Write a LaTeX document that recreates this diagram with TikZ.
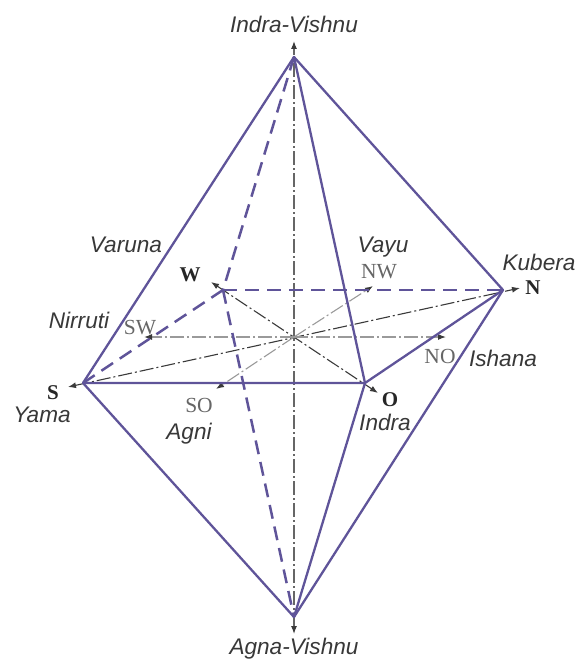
\documentclass[tikz,border=0pt]{standalone}
\usepackage{fontspec}
\setmainfont{Liberation Serif}
\newfontfamily\lblfont{Liberation Sans}
\usetikzlibrary{arrows.meta}
\definecolor{edgeblue}{HTML}{5F5499}
\definecolor{axisdark}{HTML}{3A3A3A}
\definecolor{axismid}{HTML}{666666}
\definecolor{axisgrey}{HTML}{9A9A9A}
\tikzset{
  x=1pt,y=-1pt,
  solidedge/.style={draw=edgeblue,line width=2.3pt,line join=round},
  hiddenedge/.style={draw=edgeblue,line width=2.5pt,dash pattern=on 14pt off 8pt},
  axisbase/.style={line width=1.1pt,dash pattern=on 14pt off 3pt on 2pt off 3pt},
  axisline/.style={axisbase,draw=axisdark,{Latex[length=8pt,width=6pt]}-{Latex[length=8pt,width=6pt]}},
  axisvert/.style={axisbase,draw=axismid,{Latex[length=8pt,width=6pt,color=axisdark]}-{Latex[length=8pt,width=6pt,color=axisdark]}},
  axislight/.style={axisbase,draw=axisgrey,-{Latex[length=8pt,width=6pt,color=axisdark]}},
  deity/.style={font=\lblfont\itshape\fontsize{22.6}{24}\selectfont,text=black!78,inner sep=0pt},
  dirbold/.style={font=\bfseries\fontsize{21}{24}\selectfont,text=black!85,inner sep=0pt},
  dirlight/.style={font=\fontsize{21.5}{24}\selectfont,text=black!60,inner sep=0pt}
}
\begin{document}
\begin{tikzpicture}
\useasboundingbox (0,0) rectangle (577,661);
\coordinate (c) at (294,337);
\coordinate (T) at (294,57);
\coordinate (B) at (294,617);
\coordinate (S) at (83,383);
\coordinate (N) at (503,290);
\coordinate (O) at (365,383);
\coordinate (W) at (223,290);
\coordinate (Ttip) at (294,41);
\coordinate (Btip) at (294,634);
\coordinate (Stip) at (68,387);
\coordinate (Ntip) at (520,288);
\coordinate (Otip) at (378,393);
\coordinate (Wtip) at (211,282);
\coordinate (SWtip) at (144,337);
\coordinate (NOtip) at (446,337);
\coordinate (NWtip) at (373,286);
\coordinate (SOtip) at (216,389);
% axes
\draw[axisvert] (Btip) -- (Ttip);
\draw[axisline] (Stip) -- (Ntip);
\draw[axisline] (Wtip) -- (Otip);
\draw[axislight] (c) -- (SWtip);
\draw[axislight] (c) -- (NOtip);
\draw[axislight] (c) -- (NWtip);
\draw[axislight] (c) -- (SOtip);
% hidden edges
\draw[hiddenedge] (T) -- (W);
\draw[hiddenedge] (W) -- (B);
\draw[hiddenedge] (W) -- (N);
\draw[hiddenedge] (W) -- (S);
% visible edges
\draw[solidedge] (S) -- (T) -- (N) -- (B) -- cycle;
\draw[solidedge] (T) -- (O) -- (B);
\draw[solidedge] (S) -- (O) -- (N);
% labels
\node[deity] (l1) at (294,24) {Indra-Vishnu};
\node[deity] (l2) at (294,649) {Agna-Vishnu};
\node[deity] (l3) at (126,245) {Varuna};
\node[deity] (l4) at (79,320) {Nirruti};
\node[deity] (l5) at (42,415) {Yama};
\node[deity] (l6) at (189,434) {Agni};
\node[deity] (l7) at (383,247) {Vayu};
\node[deity] (l8) at (539,262) {Kubera};
\node[deity] (l9) at (503,358) {Ishana};
\node[deity] (l10) at (385,422) {Indra};
\node[dirbold] (d1) at (53,393) {S};
\node[dirbold] (d2) at (190,275) {W};
\node[dirbold] (d3) at (533,288) {N};
\node[dirbold] (d4) at (390,400) {O};
\node[dirlight] (d5) at (140,328) {SW};
\node[dirlight] (d6) at (379,272) {NW};
\node[dirlight] (d7) at (440,356) {NO};
\node[dirlight] (d8) at (199,405) {SO};
\end{tikzpicture}
\end{document}
